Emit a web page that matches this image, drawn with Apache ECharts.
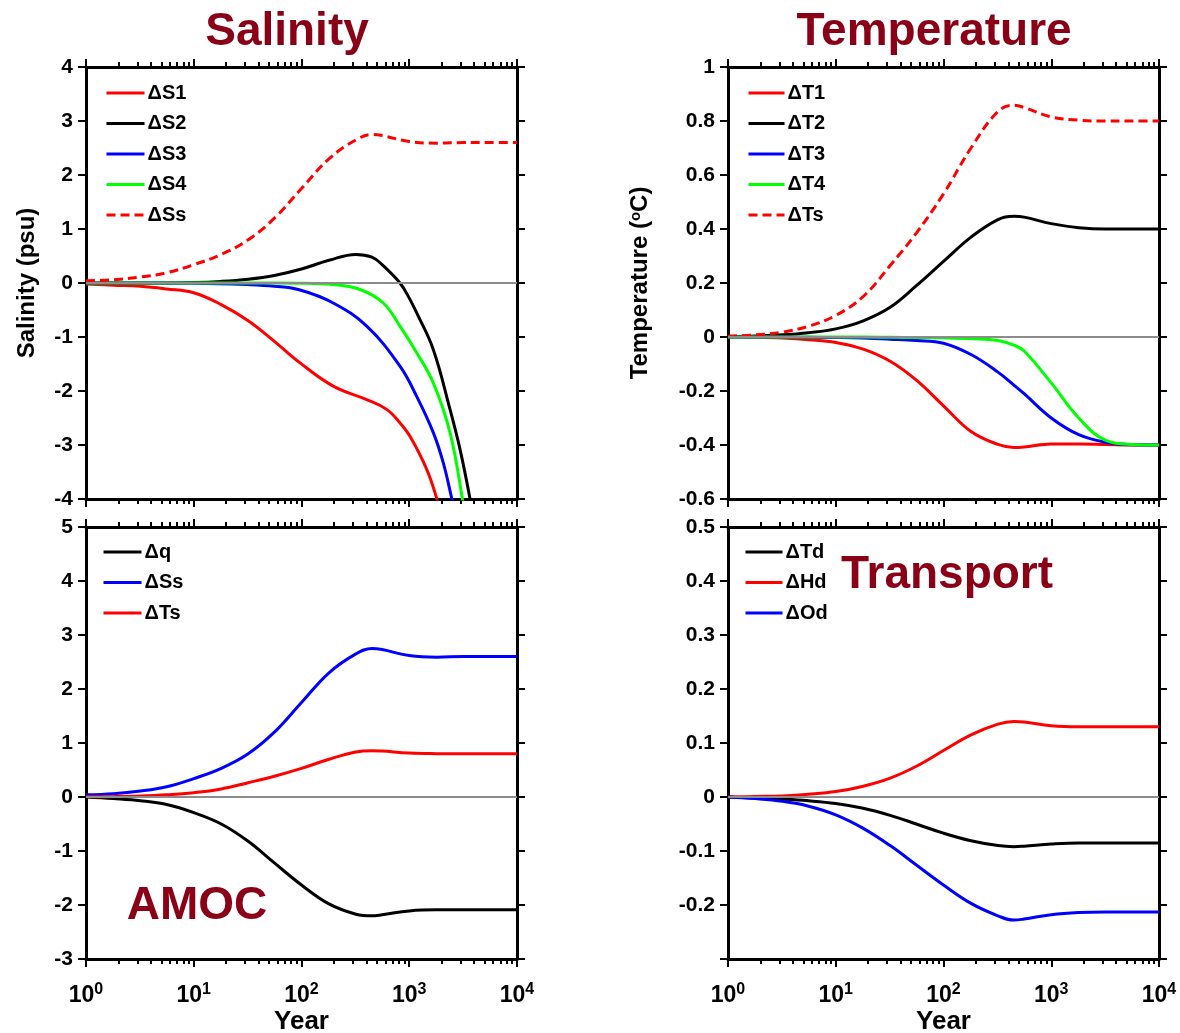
<!DOCTYPE html>
<html><head><meta charset="utf-8">
<script src="https://cdn.jsdelivr.net/npm/echarts@6/dist/echarts.min.js"></script>
<style>html,body{margin:0;padding:0;background:#fff}#c{width:1180px;height:1033px}</style>
</head><body><div id="c"></div>
<script>
const FONT = '"Liberation Sans", Arial, Helvetica, sans-serif';
const TITLE_COLOR = '#8a0016';

// ---- axis ticks ----
const xTickMajor = [1, 10, 100, 1000, 10000];
const xTickMinor = [2,3,4,5,6,7,8,9, 20,30,40,50,60,70,80,90, 200,300,400,500,600,700,800,900, 2000,3000,4000,5000,6000,7000,8000,9000];

// ---- common year samples ----
const years = [1, 1.8, 3.2, 5.6, 10, 18, 32, 56, 100, 180, 320, 450, 560, 1000, 1800, 3200, 5600, 10000];

// ---- Salinity panel ----
const yrS1 = [1, 1.8, 3.2, 5.6, 10, 18, 32, 56, 97, 197, 403, 617, 820, 1016, 1452, 1800, 2200];
const dS1  = [-0.02, -0.04, -0.06, -0.11, -0.18, -0.40, -0.70, -1.08, -1.48, -1.91, -2.16, -2.34, -2.59, -2.84, -3.45, -3.99, -4.6];
const yrS2 = [1, 3.2, 10, 18, 32, 56, 100, 180, 320, 450, 560, 820, 1000, 1170, 1670, 2390, 2960, 3660, 4470];
const dS2  = [0, 0, 0.01, 0.03, 0.07, 0.14, 0.26, 0.42, 0.53, 0.48, 0.34, 0.0, -0.28, -0.55, -1.23, -2.34, -3.08, -3.99, -5.0];
const yrS3 = [1, 10, 32, 56, 97, 197, 403, 820, 1172, 1672, 2070, 2480, 3000];
const dS3  = [0, -0.005, -0.03, -0.06, -0.13, -0.37, -0.80, -1.54, -2.10, -2.77, -3.33, -3.99, -4.7];
const yrS4 = [1, 10, 32, 97, 197, 349, 574, 820, 1172, 1672, 2390, 3110, 3700];
const dS4  = [0, 0, 0, -0.005, -0.03, -0.12, -0.37, -0.80, -1.29, -1.85, -2.77, -3.99, -5.0];
const dSs  = [0.04, 0.06, 0.11, 0.19, 0.34, 0.53, 0.80, 1.20, 1.75, 2.30, 2.65, 2.75, 2.73, 2.62, 2.59, 2.60, 2.60, 2.60];

// ---- Temperature panel ----
const dT1 = [0, -0.001, -0.004, -0.01, -0.02, -0.045, -0.09, -0.16, -0.255, -0.35, -0.398, -0.409, -0.407, -0.396, -0.396, -0.398, -0.40, -0.40];
const dT2 = [0.002, 0.004, 0.008, 0.016, 0.03, 0.06, 0.11, 0.19, 0.28, 0.37, 0.435, 0.447, 0.444, 0.42, 0.405, 0.40, 0.40, 0.40];
const dT3 = [0, 0, 0, -0.001, -0.002, -0.004, -0.008, -0.013, -0.023, -0.065, -0.13, -0.178, -0.21, -0.30, -0.362, -0.39, -0.399, -0.40];
const dT4 = [0, 0, 0, 0, 0, 0, -0.001, -0.002, -0.003, -0.006, -0.013, -0.03, -0.052, -0.17, -0.30, -0.383, -0.398, -0.40];
const dTs = [0.003, 0.008, 0.018, 0.04, 0.08, 0.15, 0.265, 0.385, 0.53, 0.70, 0.835, 0.858, 0.85, 0.815, 0.803, 0.80, 0.80, 0.80];

// ---- AMOC panel ----
const dq = [0, -0.03, -0.07, -0.14, -0.29, -0.50, -0.82, -1.22, -1.63, -1.98, -2.17, -2.2, -2.18, -2.11, -2.09, -2.09, -2.09, -2.09];

// ---- Transport panel ----
const dTd = [0, -0.002, -0.004, -0.007, -0.012, -0.021, -0.034, -0.05, -0.067, -0.081, -0.09, -0.092, -0.091, -0.087, -0.085, -0.085, -0.085, -0.085];
const dHd = [0, 0.001, 0.002, 0.005, 0.01, 0.02, 0.035, 0.057, 0.086, 0.115, 0.135, 0.14, 0.139, 0.132, 0.13, 0.13, 0.13, 0.13];
const dOd = [0, -0.003, -0.008, -0.017, -0.033, -0.058, -0.09, -0.126, -0.163, -0.197, -0.22, -0.228, -0.226, -0.218, -0.214, -0.213, -0.213, -0.213];

// ---- y axis ranges ----
const yRanges = [
  {min: -4, max: 4, interval: 1},
  {min: -0.6, max: 1, interval: 0.2},
  {min: -3, max: 5, interval: 1},
  {min: -0.3, max: 0.5, interval: 0.1}
];

const pair = (xs, ys) => xs.map((x, i) => [x, ys[i]]);

const grids = [
  {left: 86, top: 67, width: 431, height: 432, outerBoundsMode: 'none', containLabel: false},
  {left: 728, top: 67, width: 431, height: 432, outerBoundsMode: 'none', containLabel: false},
  {left: 86, top: 527, width: 431, height: 432, outerBoundsMode: 'none', containLabel: false},
  {left: 728, top: 527, width: 431, height: 432, outerBoundsMode: 'none', containLabel: false}
];

const xAxes = [];
const yAxes = [];
grids.forEach((g, gi) => {
  const bottomRow = gi >= 2;
  const base = {
    type: 'log', logBase: 10, min: 1, max: 10000, gridIndex: gi,
    splitLine: {show: false},
  };
  xAxes.push(Object.assign({}, base, {
    position: 'bottom',
    axisLine: {show: true, onZero: false, lineStyle: {color: '#000', width: 3}},
    axisTick: {show: true, inside: false, length: 8, lineStyle: {color: '#000', width: 2}, customValues: xTickMajor},
    axisLabel: bottomRow ? {
      show: true, customValues: xTickMajor, margin: 23,
      formatter: v => '{b|10}{s|' + Math.round(Math.log10(v)) + '}',
      rich: {
        b: {fontSize: 23, fontWeight: 'bold', fontFamily: FONT, color: '#000'},
        s: {fontSize: 16, fontWeight: 'bold', fontFamily: FONT, color: '#000', verticalAlign: 'top', padding: [0, 0, 12, 0]}
      }
    } : {show: false},
    name: bottomRow ? 'Year' : '',
    nameLocation: 'middle', nameGap: 50,
    nameTextStyle: {fontSize: 26, fontWeight: 'bold', fontFamily: FONT, color: '#000'}
  }));
  xAxes.push(Object.assign({}, base, {
    position: 'top',
    axisLine: {show: true, onZero: false, lineStyle: {color: '#000', width: 3}},
    axisTick: {show: true, inside: false, length: 8, lineStyle: {color: '#000', width: 2}, customValues: xTickMajor},
    axisLabel: {show: false}
  }));
  ['bottom', 'top'].forEach(pos => {
    xAxes.push(Object.assign({}, base, {
      position: pos,
      axisLine: {show: false, onZero: false},
      axisTick: {show: true, inside: false, length: 5, lineStyle: {color: '#000', width: 2}, customValues: xTickMinor},
      axisLabel: {show: false}
    }));
  });
  const r = yRanges[gi];
  yAxes.push({
    type: 'value', gridIndex: gi, position: 'left', min: r.min, max: r.max, interval: r.interval,
    splitLine: {show: false},
    axisLine: {show: true, onZero: false, lineStyle: {color: '#000', width: 3}},
    axisTick: {show: true, inside: false, length: 8, lineStyle: {color: '#000', width: 2}},
    axisLabel: {
      show: true, margin: 13, fontSize: 21, fontWeight: 'bold', fontFamily: FONT, color: '#000',
      formatter: v => (gi === 3 && Math.abs(v + 0.3) < 1e-9) ? '' : String(+v.toFixed(2))
    },
    name: gi === 0 ? 'Salinity (psu)' : (gi === 1 ? 'Temperature ({sup|o}C)' : ''),
    nameLocation: 'middle', nameRotate: 90, nameGap: gi === 0 ? 47 : 75,
    nameTextStyle: {
      fontSize: 24, fontWeight: 'bold', fontFamily: FONT, color: '#000',
      rich: {sup: {fontSize: 15, fontWeight: 'bold', fontFamily: FONT, color: '#000', verticalAlign: 'top', padding: [0, 0, 10, 0]}}
    }
  });
  yAxes.push({
    type: 'value', gridIndex: gi, position: 'right', min: r.min, max: r.max, interval: r.interval,
    splitLine: {show: false},
    axisLine: {show: true, onZero: false, lineStyle: {color: '#000', width: 3}},
    axisTick: {show: true, inside: false, length: 8, lineStyle: {color: '#000', width: 2}},
    axisLabel: {show: false}
  });
});

const LW = 3;
function line(name, gi, data, color, dashed) {
  return {
    type: 'line', name, xAxisIndex: gi * 4, yAxisIndex: gi * 2, data,
    showSymbol: false, symbol: 'none', smooth: 0.4, clip: true, z: 3,
    lineStyle: {color, width: LW, type: dashed ? [9, 5] : 'solid'},
    itemStyle: {color}
  };
}
function zeroLine(gi) {
  return {
    type: 'line', name: 'zero' + gi, xAxisIndex: gi * 4, yAxisIndex: gi * 2, data: [], z: 1,
    silent: true,
    markLine: {
      silent: true, symbol: ['none', 'none'], label: {show: false}, animation: false,
      lineStyle: {color: '#8c8c8c', width: 2, type: 'solid'},
      data: [{yAxis: 0}]
    }
  };
}

const series = [
  zeroLine(0), zeroLine(1), zeroLine(2), zeroLine(3),
  line('ΔS1', 0, pair(yrS1, dS1), '#ff0000'),
  line('ΔS2', 0, pair(yrS2, dS2), '#000000'),
  line('ΔS3', 0, pair(yrS3, dS3), '#0000ff'),
  line('ΔS4', 0, pair(yrS4, dS4), '#00ff00'),
  line('ΔSs', 0, pair(years, dSs), '#ff0000', true),
  line('ΔT1', 1, pair(years, dT1), '#ff0000'),
  line('ΔT2', 1, pair(years, dT2), '#000000'),
  line('ΔT3', 1, pair(years, dT3), '#0000ff'),
  line('ΔT4', 1, pair(years, dT4), '#00ff00'),
  line('ΔTs', 1, pair(years, dTs), '#ff0000', true),
  line('Δq', 2, pair(years, dq), '#000000'),
  line('ΔSs#2', 2, pair(years, dSs), '#0000ff'),
  line('ΔTs#2', 2, pair(years, dTs), '#ff0000'),
  line('ΔTd', 3, pair(years, dTd), '#000000'),
  line('ΔHd', 3, pair(years, dHd), '#ff0000'),
  line('ΔOd', 3, pair(years, dOd), '#0000ff')
];

function legend(names, left, top, w) {
  return {
    data: names, left, top, orient: 'vertical', itemWidth: w, itemHeight: 14, itemGap: 10.5,
    selectedMode: false,
    itemStyle: {opacity: 0, borderWidth: 0},
    lineStyle: {width: 3},
    formatter: n => n.split('#')[0],
    textStyle: {fontSize: 20, fontWeight: 'bold', fontFamily: FONT, color: '#000', lineHeight: 20, padding: [0, 0, 0, -2]}
  };
}

const titleStyle = (text, x, y) => ({
  type: 'text', x, y, silent: true,
  style: {text, fill: TITLE_COLOR, font: 'bold 46px ' + FONT, align: 'center', verticalAlign: 'middle'}
});

const option = {
  animation: false,
  backgroundColor: '#fff',
  grid: grids,
  xAxis: xAxes,
  yAxis: yAxes,
  legend: [
    legend(['ΔS1', 'ΔS2', 'ΔS3', 'ΔS4', 'ΔSs'], 100, 78, 38),
    legend(['ΔT1', 'ΔT2', 'ΔT3', 'ΔT4', 'ΔTs'], 742, 78, 36),
    legend(['Δq', 'ΔSs#2', 'ΔTs#2'], 97, 537, 38),
    legend(['ΔTd', 'ΔHd', 'ΔOd'], 739, 537, 37)
  ],
  graphic: [
    titleStyle('Salinity', 287, 32),
    titleStyle('Temperature', 934, 32),
    titleStyle('Transport', 947, 575),
    titleStyle('AMOC', 197, 906)
  ],
  series
};

const chart = echarts.init(document.getElementById('c'), null, {renderer: 'canvas'});
chart.setOption(option);
</script>
</body></html>
